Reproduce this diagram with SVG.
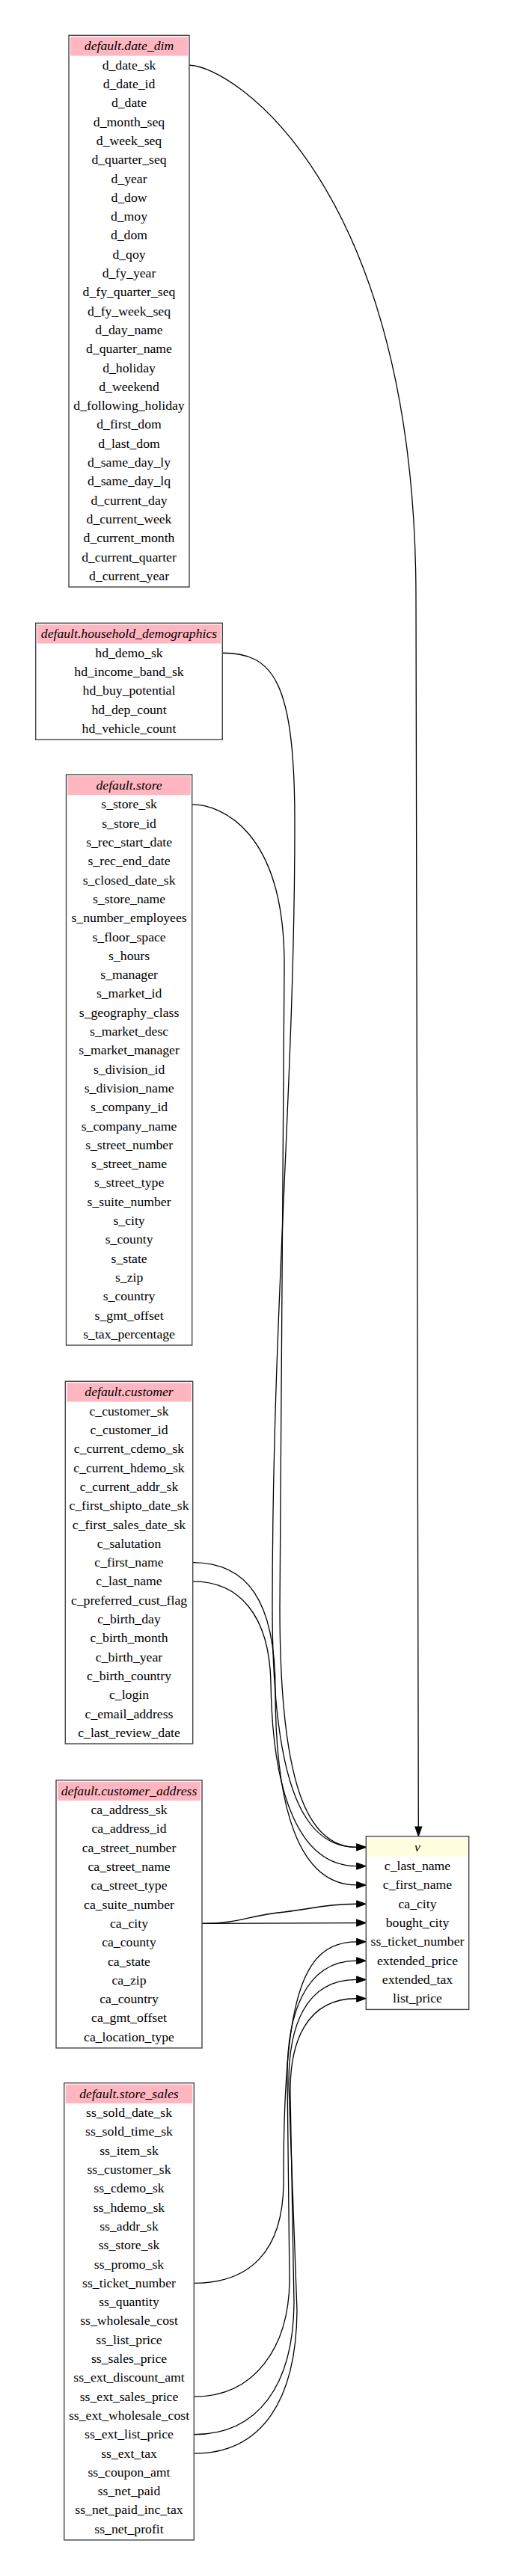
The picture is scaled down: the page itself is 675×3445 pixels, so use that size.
<svg xmlns="http://www.w3.org/2000/svg" width="675" height="3445" viewBox="0 0 675 3445">
<defs>
<style>
.tb{fill:#fff;stroke:#444;stroke-width:1.4}
.hp{fill:#ffb6c1}
.hy{fill:#ffffe0}
text{font-family:"Liberation Serif","Times New Roman",serif;font-size:17.7px;text-anchor:middle;fill:#000}
.ti{font-style:italic}
.e{fill:none;stroke:#000;stroke-width:1.3;marker-end:url(#ah)}
</style>
<marker id="ah" markerUnits="userSpaceOnUse" markerWidth="16" markerHeight="12" refX="0" refY="5" orient="auto" overflow="visible">
<path d="M0,0.5 L12.65,5 L0,9.5 Z" fill="#000" stroke="#000" stroke-width="1"/>
</marker>
</defs>
<rect width="675" height="3445" fill="#fff"/>

<g id="connectors">
<path class="e" d="M253,87.25 C310,87.25 556,250 556,800 L559.3,2443.05"/>
<path class="e" d="M297.3,873.25 C365,873.25 394,910 394,1100 C394,1450 364,1750 364,2150 C364,2400 410,2470.35 476.65,2470.35"/>
<path class="e" d="M256.7,1075.95 C295,1075.95 380,1110 380,1290 C380,1500 374,1800 374,2150 C374,2390 412,2470.35 476.65,2470.35"/>
<path class="e" d="M257.7,2114.95 C320,2114.95 360,2160 362,2250 C364,2400 400,2495.65 476.65,2495.65"/>
<path class="e" d="M257.7,2089.65 C330,2089.65 368,2140 368,2260 C368,2420 400,2520.95 476.65,2520.95"/>
<path class="e" d="M270,2572.45 C320,2572.45 330,2562 380,2557 C420,2552 440,2546.25 476.65,2546.25"/>
<path class="e" d="M270,2572.45 L476.65,2571.55"/>
<path class="e" d="M259.3,3053.35 C335,3053.35 378,3010 379,2920 C379,2680 400,2596.85 476.65,2596.85"/>
<path class="e" d="M259.3,3205.15 C340,3205.15 386,3140 387,3050 L384,2780 C383,2700 405,2622.15 476.65,2622.15"/>
<path class="e" d="M259.3,3281.05 C350,3281.05 396,3210 397,3090 L386,2790 C385,2710 408,2647.45 476.65,2647.45"/>
<path class="e" d="M259.3,3255.75 C345,3255.75 392,3190 393,3080 L388,2800 C387,2730 410,2672.75 476.65,2672.75"/>
</g>

<g id="date_dim" transform="translate(92,47.3)">
<rect class="tb" x="0" y="0" width="161" height="737.7"/>
<rect class="hp" x="2" y="2" width="157" height="25.3"/>
<text class="ti" x="80.5" y="20.15">default.date_dim</text>
<text x="80.5" y="45.45">d_date_sk</text>
<text x="80.5" y="70.75">d_date_id</text>
<text x="80.5" y="96.05">d_date</text>
<text x="80.5" y="121.35">d_month_seq</text>
<text x="80.5" y="146.65">d_week_seq</text>
<text x="80.5" y="171.95">d_quarter_seq</text>
<text x="80.5" y="197.25">d_year</text>
<text x="80.5" y="222.55">d_dow</text>
<text x="80.5" y="247.85">d_moy</text>
<text x="80.5" y="273.15">d_dom</text>
<text x="80.5" y="298.45">d_qoy</text>
<text x="80.5" y="323.75">d_fy_year</text>
<text x="80.5" y="349.05">d_fy_quarter_seq</text>
<text x="80.5" y="374.35">d_fy_week_seq</text>
<text x="80.5" y="399.65">d_day_name</text>
<text x="80.5" y="424.95">d_quarter_name</text>
<text x="80.5" y="450.25">d_holiday</text>
<text x="80.5" y="475.55">d_weekend</text>
<text x="80.5" y="500.85">d_following_holiday</text>
<text x="80.5" y="526.15">d_first_dom</text>
<text x="80.5" y="551.45">d_last_dom</text>
<text x="80.5" y="576.75">d_same_day_ly</text>
<text x="80.5" y="602.05">d_same_day_lq</text>
<text x="80.5" y="627.35">d_current_day</text>
<text x="80.5" y="652.65">d_current_week</text>
<text x="80.5" y="677.95">d_current_month</text>
<text x="80.5" y="703.25">d_current_quarter</text>
<text x="80.5" y="728.55">d_current_year</text>
</g>

<g id="household_demographics" transform="translate(47.7,833.3)">
<rect class="tb" x="0" y="0" width="249.6" height="155.8"/>
<rect class="hp" x="2" y="2" width="245.6" height="25.3"/>
<text class="ti" x="124.8" y="20.15">default.household_demographics</text>
<text x="124.8" y="45.45">hd_demo_sk</text>
<text x="124.8" y="70.75">hd_income_band_sk</text>
<text x="124.8" y="96.05">hd_buy_potential</text>
<text x="124.8" y="121.35">hd_dep_count</text>
<text x="124.8" y="146.65">hd_vehicle_count</text>
</g>

<g id="store" transform="translate(88.5,1036)">
<rect class="tb" x="0" y="0" width="168.2" height="763"/>
<rect class="hp" x="2" y="2" width="164.2" height="25.3"/>
<text class="ti" x="84.1" y="20.15">default.store</text>
<text x="84.1" y="45.45">s_store_sk</text>
<text x="84.1" y="70.75">s_store_id</text>
<text x="84.1" y="96.05">s_rec_start_date</text>
<text x="84.1" y="121.35">s_rec_end_date</text>
<text x="84.1" y="146.65">s_closed_date_sk</text>
<text x="84.1" y="171.95">s_store_name</text>
<text x="84.1" y="197.25">s_number_employees</text>
<text x="84.1" y="222.55">s_floor_space</text>
<text x="84.1" y="247.85">s_hours</text>
<text x="84.1" y="273.15">s_manager</text>
<text x="84.1" y="298.45">s_market_id</text>
<text x="84.1" y="323.75">s_geography_class</text>
<text x="84.1" y="349.05">s_market_desc</text>
<text x="84.1" y="374.35">s_market_manager</text>
<text x="84.1" y="399.65">s_division_id</text>
<text x="84.1" y="424.95">s_division_name</text>
<text x="84.1" y="450.25">s_company_id</text>
<text x="84.1" y="475.55">s_company_name</text>
<text x="84.1" y="500.85">s_street_number</text>
<text x="84.1" y="526.15">s_street_name</text>
<text x="84.1" y="551.45">s_street_type</text>
<text x="84.1" y="576.75">s_suite_number</text>
<text x="84.1" y="602.05">s_city</text>
<text x="84.1" y="627.35">s_county</text>
<text x="84.1" y="652.65">s_state</text>
<text x="84.1" y="677.95">s_zip</text>
<text x="84.1" y="703.25">s_country</text>
<text x="84.1" y="728.55">s_gmt_offset</text>
<text x="84.1" y="753.85">s_tax_percentage</text>
</g>

<g id="customer" transform="translate(87.3,1847.3)">
<rect class="tb" x="0" y="0" width="170.4" height="484.7"/>
<rect class="hp" x="2" y="2" width="166.4" height="25.3"/>
<text class="ti" x="85.2" y="20.15">default.customer</text>
<text x="85.2" y="45.45">c_customer_sk</text>
<text x="85.2" y="70.75">c_customer_id</text>
<text x="85.2" y="96.05">c_current_cdemo_sk</text>
<text x="85.2" y="121.35">c_current_hdemo_sk</text>
<text x="85.2" y="146.65">c_current_addr_sk</text>
<text x="85.2" y="171.95">c_first_shipto_date_sk</text>
<text x="85.2" y="197.25">c_first_sales_date_sk</text>
<text x="85.2" y="222.55">c_salutation</text>
<text x="85.2" y="247.85">c_first_name</text>
<text x="85.2" y="273.15">c_last_name</text>
<text x="85.2" y="298.45">c_preferred_cust_flag</text>
<text x="85.2" y="323.75">c_birth_day</text>
<text x="85.2" y="349.05">c_birth_month</text>
<text x="85.2" y="374.35">c_birth_year</text>
<text x="85.2" y="399.65">c_birth_country</text>
<text x="85.2" y="424.95">c_login</text>
<text x="85.2" y="450.25">c_email_address</text>
<text x="85.2" y="475.55">c_last_review_date</text>
</g>

<g id="customer_address" transform="translate(75,2380.7)">
<rect class="tb" x="0" y="0" width="195" height="358.2"/>
<rect class="hp" x="2" y="2" width="191" height="25.3"/>
<text class="ti" x="97.5" y="20.15">default.customer_address</text>
<text x="97.5" y="45.45">ca_address_sk</text>
<text x="97.5" y="70.75">ca_address_id</text>
<text x="97.5" y="96.05">ca_street_number</text>
<text x="97.5" y="121.35">ca_street_name</text>
<text x="97.5" y="146.65">ca_street_type</text>
<text x="97.5" y="171.95">ca_suite_number</text>
<text x="97.5" y="197.25">ca_city</text>
<text x="97.5" y="222.55">ca_county</text>
<text x="97.5" y="247.85">ca_state</text>
<text x="97.5" y="273.15">ca_zip</text>
<text x="97.5" y="298.45">ca_country</text>
<text x="97.5" y="323.75">ca_gmt_offset</text>
<text x="97.5" y="349.05">ca_location_type</text>
</g>

<g id="store_sales" transform="translate(85.7,2785.7)">
<rect class="tb" x="0" y="0" width="173.6" height="611.2"/>
<rect class="hp" x="2" y="2" width="169.6" height="25.3"/>
<text class="ti" x="86.8" y="20.15">default.store_sales</text>
<text x="86.8" y="45.45">ss_sold_date_sk</text>
<text x="86.8" y="70.75">ss_sold_time_sk</text>
<text x="86.8" y="96.05">ss_item_sk</text>
<text x="86.8" y="121.35">ss_customer_sk</text>
<text x="86.8" y="146.65">ss_cdemo_sk</text>
<text x="86.8" y="171.95">ss_hdemo_sk</text>
<text x="86.8" y="197.25">ss_addr_sk</text>
<text x="86.8" y="222.55">ss_store_sk</text>
<text x="86.8" y="247.85">ss_promo_sk</text>
<text x="86.8" y="273.15">ss_ticket_number</text>
<text x="86.8" y="298.45">ss_quantity</text>
<text x="86.8" y="323.75">ss_wholesale_cost</text>
<text x="86.8" y="349.05">ss_list_price</text>
<text x="86.8" y="374.35">ss_sales_price</text>
<text x="86.8" y="399.65">ss_ext_discount_amt</text>
<text x="86.8" y="424.95">ss_ext_sales_price</text>
<text x="86.8" y="450.25">ss_ext_wholesale_cost</text>
<text x="86.8" y="475.55">ss_ext_list_price</text>
<text x="86.8" y="500.85">ss_ext_tax</text>
<text x="86.8" y="526.15">ss_coupon_amt</text>
<text x="86.8" y="551.45">ss_net_paid</text>
<text x="86.8" y="576.75">ss_net_paid_inc_tax</text>
<text x="86.8" y="602.05">ss_net_profit</text>
</g>

<g id="v" transform="translate(489.3,2455.7)">
<rect class="tb" x="0" y="0" width="137.4" height="231.7"/>
<rect class="hy" x="2" y="2" width="133.4" height="25.3"/>
<text class="ti" x="68.7" y="20.15">v</text>
<text x="68.7" y="45.45">c_last_name</text>
<text x="68.7" y="70.75">c_first_name</text>
<text x="68.7" y="96.05">ca_city</text>
<text x="68.7" y="121.35">bought_city</text>
<text x="68.7" y="146.65">ss_ticket_number</text>
<text x="68.7" y="171.95">extended_price</text>
<text x="68.7" y="197.25">extended_tax</text>
<text x="68.7" y="222.55">list_price</text>
</g>
</svg>
